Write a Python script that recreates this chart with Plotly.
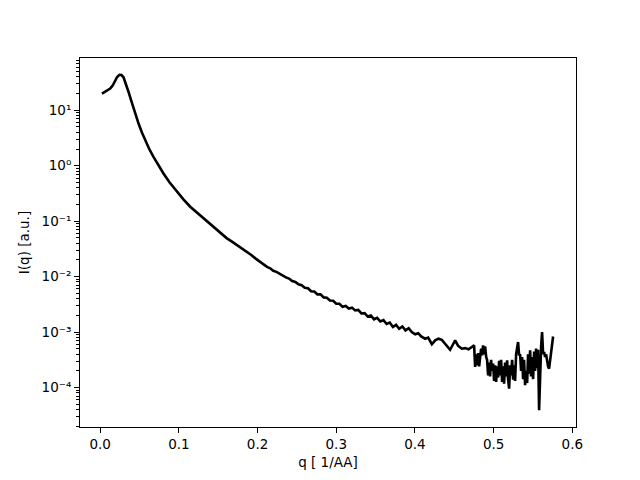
import plotly.graph_objects as go

# q values [1/AA]
q = [
    0.0022, 0.006, 0.010, 0.0127, 0.016, 0.019, 0.0215, 0.0245, 0.027, 0.0296,
    0.033, 0.036, 0.039, 0.0423, 0.045, 0.0487, 0.053, 0.0572, 0.062, 0.0677,
    0.074, 0.0804, 0.088, 0.0975, 0.106, 0.1144, 0.120, 0.125, 0.130, 0.1356,
    0.142, 0.148, 0.154, 0.161, 0.167, 0.174, 0.180, 0.1864, 0.192, 0.198,
    0.204, 0.208, 0.212, 0.216, 0.220, 0.224, 0.228, 0.232, 0.236, 0.240,
    0.244, 0.248, 0.252, 0.256, 0.260, 0.264, 0.268, 0.272, 0.276, 0.280,
    0.284, 0.288, 0.292, 0.296, 0.300, 0.304, 0.308, 0.312, 0.316, 0.320,
    0.324, 0.328, 0.332, 0.336, 0.340, 0.344, 0.348, 0.352, 0.356, 0.360,
    0.364, 0.368, 0.372, 0.376, 0.380, 0.384, 0.388, 0.392, 0.396,
    0.4003, 0.4041, 0.4079, 0.4130, 0.4168, 0.4215, 0.4257, 0.4299, 0.4342, 0.4384,
    0.4422, 0.4447, 0.4485, 0.4511, 0.4549, 0.4596, 0.4638, 0.4680, 0.4723,
    0.4752, 0.4765, 0.4777, 0.4790, 0.4803, 0.4816, 0.4828, 0.4841, 0.4854, 0.4866,
    0.4879, 0.4892, 0.4905, 0.4917, 0.4930, 0.4943, 0.4955, 0.4968, 0.4981, 0.4994,
    0.5006, 0.5019, 0.5032, 0.5044, 0.5057, 0.5070, 0.5083, 0.5095, 0.5108, 0.5121,
    0.5133, 0.5146, 0.5159, 0.5172, 0.5184, 0.5197, 0.5210, 0.5222, 0.5235, 0.5248,
    0.5260, 0.5273, 0.5286, 0.5299, 0.5311, 0.5324, 0.5337, 0.5349, 0.5362, 0.5375,
    0.5387, 0.5400, 0.5413, 0.5426, 0.5438, 0.5451, 0.5464, 0.5476, 0.5489, 0.5502,
    0.5515, 0.5527, 0.5540, 0.5553, 0.5565, 0.5578, 0.5591, 0.5604, 0.5616, 0.5629,
    0.5642, 0.5654, 0.5667, 0.5680, 0.5692, 0.5705, 0.5718, 0.5731, 0.5743, 0.5756,
]

# log10 of I(q) [a.u.] (log-scaled axis)
log10_I = [
    1.30, 1.33, 1.365, 1.39, 1.45, 1.54, 1.60, 1.64, 1.635, 1.595,
    1.47, 1.33, 1.19, 1.03, 0.91, 0.76, 0.60, 0.46, 0.31, 0.16,
    0.00, -0.14, -0.30, -0.47, -0.61, -0.74, -0.81, -0.875, -0.94, -1.01,
    -1.085, -1.16, -1.23, -1.31, -1.365, -1.43, -1.49, -1.55, -1.61, -1.68,
    -1.745, -1.775, -1.825, -1.85, -1.895, -1.915, -1.95, -1.97, -2.015, -2.035,
    -2.08, -2.095, -2.14, -2.155, -2.20, -2.21, -2.265, -2.27, -2.32, -2.32,
    -2.375, -2.38, -2.43, -2.435, -2.49, -2.49, -2.545, -2.53, -2.575, -2.56,
    -2.61, -2.60, -2.665, -2.66, -2.72, -2.70, -2.77, -2.745, -2.81, -2.785,
    -2.855, -2.83, -2.91, -2.87, -2.94, -2.90, -2.97, -2.93, -3.00,
    -3.04, -3.02, -3.08, -3.12, -3.10, -3.22, -3.15, -3.12, -3.14, -3.22,
    -3.28, -3.32, -3.22, -3.15, -3.25, -3.30, -3.29, -3.31, -3.27,
    -3.24, -3.63, -3.40, -3.60, -3.38, -3.62, -3.45, -3.30, -3.42, -3.24,
    -3.40, -3.26, -3.45, -3.50, -3.78, -3.55, -3.80, -3.50, -3.70, -3.57,
    -3.88, -3.60, -3.90, -3.62, -3.82, -3.52, -3.78, -3.50, -3.90, -3.62,
    -3.93, -3.55, -3.80, -3.51, -3.85, -4.02, -3.60, -3.78, -3.50, -3.86,
    -3.60, -3.88, -3.40, -3.25, -3.18, -3.42, -3.40, -3.70, -3.45, -3.85,
    -3.50, -3.96, -3.70, -3.92, -3.40, -3.75, -3.33, -3.80, -3.45, -3.85,
    -3.35, -3.70, -3.30, -3.65, -3.32, -4.41, -3.50, -3.25, -3.00, -3.40,
    -3.36, -3.45, -3.40, -3.55, -3.62, -3.66, -3.50, -3.35, -3.20, -3.08,
]

intensity = [10 ** v for v in log10_I]

x_ticks = [0.0, 0.1, 0.2, 0.3, 0.4, 0.5, 0.6]
y_ticks = [1e-4, 1e-3, 1e-2, 1e-1, 1e0, 1e1]
y_tick_labels = ["10⁻⁴", "10⁻³", "10⁻²", "10⁻¹", "10⁰", "10¹"]
y_minor = [m * 10.0 ** e for e in range(-5, 2) for m in range(2, 10)]
x_title = "q [ 1/AA]"
y_title = "I(q) [a.u.]"

font = dict(family="DejaVu Sans", size=13.5, color="black")

fig = go.Figure()
fig.add_trace(go.Scatter(
    x=q, y=intensity, mode="lines",
    line=dict(color="black", width=2.6),
    showlegend=False,
))

# the page body adds an 8px offset, so the figure is 632x472
fig.update_layout(
    width=632, height=472,
    margin=dict(l=72, r=64, t=50, b=53, pad=0),
    paper_bgcolor="white", plot_bgcolor="white",
    font=font,
)
fig.update_xaxes(
    range=[-0.0257, 0.6047], automargin=False,
    tickvals=x_ticks, tickformat=".1f",
    ticks="outside", ticklen=5, tickwidth=1, tickcolor="black",
    showline=True, linecolor="black", linewidth=1, mirror=True,
    showgrid=False, zeroline=False,
    title=dict(text=x_title, standoff=6, font=font),
    tickfont=font,
)
fig.update_yaxes(
    type="log", range=[-4.7125, 1.9425], automargin=False,
    tickvals=y_ticks, ticktext=y_tick_labels,
    ticks="outside", ticklen=5, tickwidth=1, tickcolor="black",
    minor=dict(tickvals=y_minor, ticks="outside", ticklen=3, tickwidth=0.7,
               tickcolor="black", showgrid=False),
    showline=True, linecolor="black", linewidth=1, mirror=True,
    showgrid=False, zeroline=False,
    title=dict(text=y_title, standoff=8, font=font),
    tickfont=font,
)

fig.write_html("out.html")
